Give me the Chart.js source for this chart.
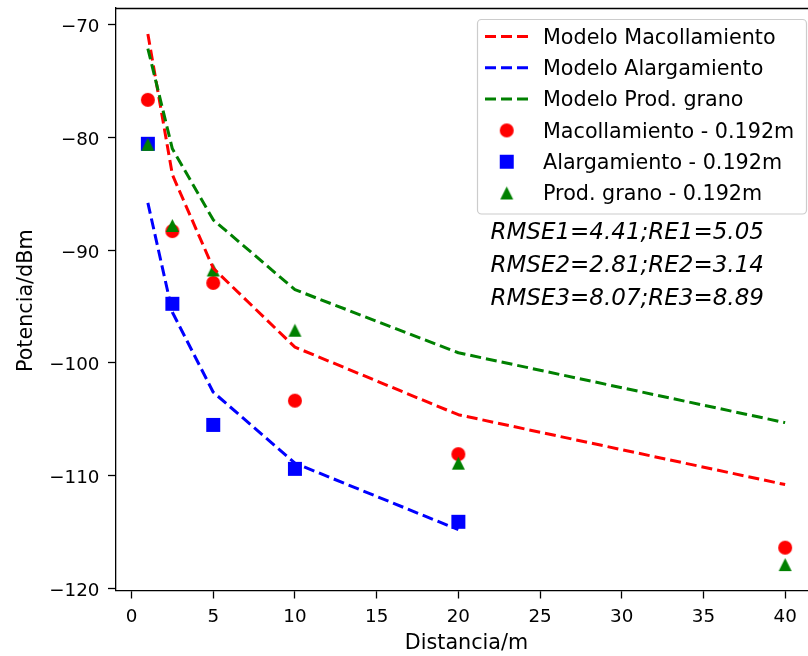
<!DOCTYPE html>
<html><head><meta charset="utf-8">
<script src="https://cdn.jsdelivr.net/npm/chart.js@4.4.1/dist/chart.umd.min.js"></script>
<style>
html,body{margin:0;padding:0;overflow:hidden;background:#fff;width:808px;height:656px}
#wrap{position:absolute;left:0;top:0;width:830px;height:656px}
</style>
</head><body><div id="wrap"><canvas id="c" width="830" height="656"></canvas></div>
<script>
// ---- data ----
const distances = [1, 2.5, 5, 10, 20, 40];
const distancesAlarg = [1, 2.5, 5, 10, 20];
const modeloMacollamiento = [-70.8, -83.3, -91.6, -98.6, -104.6, -110.8];
const modeloAlargamiento = [-85.8, -95.5, -102.6, -108.9, -114.8];
const modeloProdGrano = [-72.1, -81.0, -87.3, -93.5, -99.1, -105.3];
const medMacollamiento = [-76.65, -88.3, -92.9, -103.35, -108.1, -116.4];
const medAlargamiento = [-80.55, -94.75, -105.5, -109.4, -114.1];
const medProdGrano = [-80.6, -87.8, -91.75, -97.1, -108.9, -117.9];
const xTicks = [0, 5, 10, 15, 20, 25, 30, 35, 40];
const yTicks = [-120, -110, -100, -90, -80, -70];
const seriesLabels = ['Modelo Macollamiento', 'Modelo Alargamiento', 'Modelo Prod. grano',
  'Macollamiento - 0.192m', 'Alargamiento - 0.192m', 'Prod. grano - 0.192m'];
const annotations = ['RMSE1=4.41;RE1=5.05', 'RMSE2=2.81;RE2=3.14', 'RMSE3=8.07;RE3=8.89'];
const xTitle = 'Distancia/m';
const yTitle = 'Potencia/dBm';

const RED = '#ff0000', BLUE = '#0000ff', GREEN = '#008000';
const FONT = '"DejaVu Sans", "Liberation Sans", sans-serif';
Chart.defaults.font.family = FONT;
Chart.defaults.color = '#000';

function makeMarker(shape, color, size) {
  const c = document.createElement('canvas');
  const s = Math.ceil(size) + 4;
  c.width = s; c.height = s;
  const g = c.getContext('2d');
  g.fillStyle = color;
  const m = s / 2, h = size / 2;
  g.beginPath();
  if (shape === 'circle') g.arc(m, m, h, 0, Math.PI * 2);
  else if (shape === 'square') g.rect(m - h, m - h, size, size);
  else { g.moveTo(m, m - h); g.lineTo(m + h, m + h); g.lineTo(m - h, m + h); g.closePath(); }
  g.fill();
  return c;
}
const mkCircle = makeMarker('circle', RED, 14);
const mkSquare = makeMarker('square', BLUE, 14);
const mkTri = makeMarker('triangle', GREEN, 13);

const pts = (xs, ys) => xs.map((x, i) => ({x: x, y: ys[i]}));

function lineDs(label, xs, ys, color, order) {
  return {label, data: pts(xs, ys), showLine: true, borderColor: color, backgroundColor: color,
    borderWidth: 3, borderDash: [11, 5], borderCapStyle: 'butt', borderJoinStyle: 'round',
    pointRadius: 0, tension: 0, fill: false, order, _kind: 'line'};
}
function scatDs(label, xs, ys, img, color, order) {
  return {label, data: pts(xs, ys), showLine: false, pointStyle: img, pointRadius: 7,
    backgroundColor: color, borderColor: color, order, _kind: 'marker', _img: img};
}

const datasets = [
  lineDs(seriesLabels[0], distances, modeloMacollamiento, RED, 2),
  lineDs(seriesLabels[1], distancesAlarg, modeloAlargamiento, BLUE, 1),
  lineDs(seriesLabels[2], distances, modeloProdGrano, GREEN, 0),
  scatDs(seriesLabels[3], distances, medMacollamiento, mkCircle, RED, 5),
  scatDs(seriesLabels[4], distancesAlarg, medAlargamiento, mkSquare, BLUE, 4),
  scatDs(seriesLabels[5], distances, medProdGrano, mkTri, GREEN, 3)
];

const minus = v => String(v).replace('-', '\u2212');

const overlay = {
  id: 'overlay',
  afterDraw(chart) {
    const ctx = chart.ctx, a = chart.chartArea;
    const xs = chart.scales.x, ys = chart.scales.y;
    ctx.save();
    // top & right spines
    ctx.strokeStyle = '#000'; ctx.lineWidth = 1.3;
    ctx.beginPath();
    ctx.moveTo(a.left, Math.round(a.top) + 0.5); ctx.lineTo(a.right, Math.round(a.top) + 0.5);
    ctx.moveTo(a.right, a.top); ctx.lineTo(a.right, a.bottom);
    ctx.stroke();

    // tick labels
    ctx.fillStyle = '#000';
    ctx.font = '18.3px ' + FONT;
    ctx.textBaseline = 'alphabetic';
    ctx.textAlign = 'center';
    xTicks.forEach(v => ctx.fillText(minus(v), xs.getPixelForValue(v), 622));
    ctx.textAlign = 'right';
    yTicks.forEach(v => ctx.fillText(minus(v), 99.5, ys.getPixelForValue(v) + 7.5));

    // legend
    const bx = 477.5, by = 19.5, bw = 329, bh = 194.5;
    ctx.beginPath();
    ctx.roundRect(bx, by, bw, bh, 4);
    ctx.fillStyle = 'rgba(255,255,255,0.8)'; ctx.fill();
    ctx.strokeStyle = '#cccccc'; ctx.lineWidth = 1.2; ctx.stroke();
    chart.data.datasets.forEach((ds, i) => {
      const cy = 36.5 + i * 31.3;
      if (ds._kind === 'line') {
        ctx.save();
        ctx.setLineDash([11, 5]); ctx.lineWidth = 3; ctx.lineCap = 'butt';
        ctx.strokeStyle = ds.borderColor;
        ctx.beginPath(); ctx.moveTo(485, cy); ctx.lineTo(528.5, cy); ctx.stroke();
        ctx.restore();
      } else {
        ctx.drawImage(ds._img, 506.7 - ds._img.width / 2, cy - ds._img.height / 2);
      }
      ctx.fillStyle = '#000';
      ctx.font = '20.7px ' + FONT;
      ctx.textBaseline = 'alphabetic'; ctx.textAlign = 'left';
      ctx.fillText(ds.label, 543, cy + 7.2);
    });

    // annotations
    ctx.font = 'italic 23px ' + FONT;
    ctx.fillStyle = '#000';
    ctx.textAlign = 'left';
    annotations.forEach((t, i) => ctx.fillText(t, 490.5, 238.5 + i * 33.3));

    // axis titles
    ctx.font = '20.7px ' + FONT;
    ctx.textAlign = 'center';
    ctx.fillText(xTitle, (a.left + a.right) / 2, 648.5);
    ctx.save();
    ctx.translate(32, (a.top + a.bottom) / 2 + 1.5);
    ctx.rotate(-Math.PI / 2);
    ctx.fillText(yTitle, 0, 0);
    ctx.restore();
    ctx.restore();
  }
};

new Chart(document.getElementById('c'), {
  type: 'scatter',
  data: {datasets},
  options: {
    responsive: false, animation: false, devicePixelRatio: 1,
    layout: {padding: {top: 8, right: 13, left: 0, bottom: 0}},
    plugins: {legend: {display: false}, tooltip: {enabled: false}},
    scales: {
      x: {
        type: 'linear', min: -0.95, max: 41.95,
        afterBuildTicks: s => { s.ticks = xTicks.map(v => ({value: v})); },
        afterFit: s => { s.height = 65.5; s.paddingLeft = 0; s.paddingRight = 0; },
        grid: {display: true, drawOnChartArea: false, drawTicks: true, tickLength: 8, tickColor: '#000', tickWidth: 1.3},
        border: {display: true, color: '#000', width: 1.3},
        ticks: {display: false, autoSkip: false}
      },
      y: {
        type: 'linear', min: -120.2, max: -68.5,
        afterBuildTicks: s => { s.ticks = yTicks.map(v => ({value: v})); },
        afterFit: s => { s.width = 116; s.paddingTop = 0; s.paddingBottom = 0; },
        grid: {display: true, drawOnChartArea: false, drawTicks: true, tickLength: 8, tickColor: '#000', tickWidth: 1.3},
        border: {display: true, color: '#000', width: 1.3},
        ticks: {display: false, autoSkip: false}
      }
    }
  },
  plugins: [overlay]
});
</script>
</body></html>
